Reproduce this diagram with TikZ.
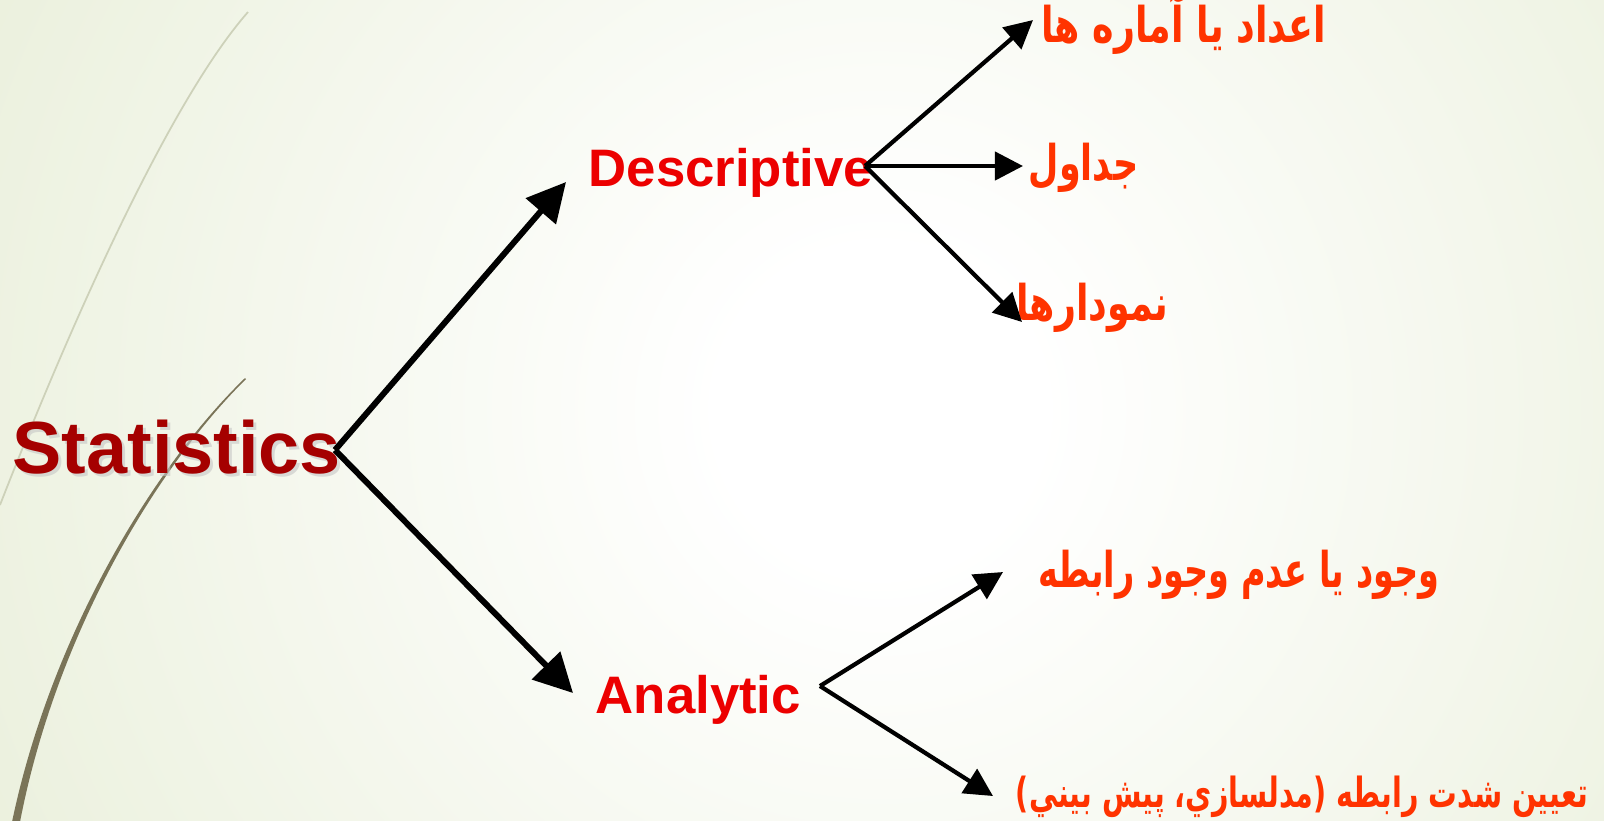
\documentclass[tikz,border=0pt]{standalone}
\usepackage{fontspec}
\setmainfont{Liberation Sans}
\newfontfamily\fa[Script=Arabic]{DejaVu Sans}
\TeXXeTstate=1
\usetikzlibrary{arrows.meta}
\definecolor{bgg}{RGB}{229,236,211}
\definecolor{statred}{RGB}{165,0,0}
\definecolor{catred}{RGB}{236,0,0}
\definecolor{faorange}{RGB}{255,51,0}
\definecolor{curveA}{RGB}{205,209,185}
\definecolor{curveB}{RGB}{122,116,88}
\pgfdeclareradialshading{bgshade}{\pgfpoint{0bp}{0bp}}{color(0bp)=(white); color(4bp)=(white); color(31bp)=(bgg); color(50bp)=(bgg)}
\tikzset{
  mainarrow/.style={line width=1.7pt, -{Triangle[length=11pt,width=11pt]}},
  brancharrow/.style={line width=1.2pt, -{Triangle[length=8pt,width=8pt]}},
  stattext/.style={inner sep=0pt, anchor=base west, font=\bfseries\fontsize{21}{24}\selectfont},
  cattext/.style={inner sep=0pt, anchor=base west, text=catred, font=\bfseries\fontsize{15}{18}\selectfont},
  fatext/.style={inner sep=0pt, anchor=base east, text=faorange, font=\fa\bfseries\fontsize{14}{17}\selectfont},
}
\begin{document}
\begin{tikzpicture}[x=0.01cm,y=-0.01cm]
\useasboundingbox (0,0) rectangle (1604,820);
\begin{scope}
  \clip (0,0) rectangle (1604,820);
  \shade[shading=bgshade] (880,410) circle (10cm);
  % decorative curves
  \draw[curveA, line width=0.5pt] (248,12) .. controls (175,95) and (80,300) .. (0,505);
  \fill[curveB] (245,378) .. controls (150,470) and (50,640) .. (12,822)
     -- (20,822) .. controls (55,640) and (152,472) .. (246,379) -- cycle;
\end{scope}

% main texts
\node[stattext, text=gray!45, opacity=0.6] (statshadow) at (15,476) {Statistics};
\node[stattext, text=statred] (stat) at (12,473) {Statistics};
\node[cattext] (desc) at (588,186) {Descriptive};
\node[cattext] (anal) at (595,713) {Analytic};

% persian texts
\node[fatext] (t1) at (1327,42) {\scalebox{0.74}[1]{\beginR اعداد يا آماره ها\endR}};
\node[fatext] (t2) at (1139,180) {\scalebox{0.71}[1]{\beginR جداول\endR}};
\node[fatext] (t3) at (1169,320) {\scalebox{0.74}[1]{\beginR نمودارها\endR}};
\node[fatext] (t4) at (1440,587) {\scalebox{0.68}[1]{\beginR وجود يا عدم وجود رابطه\endR}};
\node[fatext, font=\fa\bfseries\fontsize{11.8}{14}\selectfont] (t5) at (1589,807) {\scalebox{0.69}[1]{\beginR تعيين شدت رابطه (مدلسازي، پيش بيني)\endR}};

% connector points
\coordinate (s0) at (335,450);
\coordinate (d0) at (566,182);
\coordinate (a0) at (573,693);
\coordinate (ds) at (865,166);
\coordinate (d1) at (1033,20);
\coordinate (d2) at (1023,166);
\coordinate (d3) at (1022,322);
\coordinate (as) at (820,686);
\coordinate (a1) at (1003,572);
\coordinate (a2) at (993,796);

\draw[mainarrow] (s0) -- (d0);
\draw[mainarrow] (s0) -- (a0);
\draw[brancharrow] (ds) -- (d1);
\draw[brancharrow] (ds) -- (d2);
\draw[brancharrow] (ds) -- (d3);
\draw[brancharrow] (as) -- (a1);
\draw[brancharrow] (as) -- (a2);
\end{tikzpicture}
\end{document}
